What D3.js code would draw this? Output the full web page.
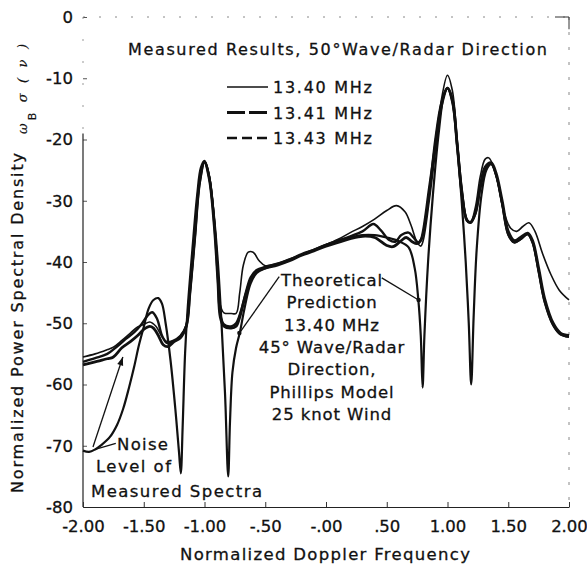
<!DOCTYPE html>
<html>
<head>
<meta charset="utf-8">
<script src="https://cdn.jsdelivr.net/npm/d3@7"></script>
<style>
  body { margin: 0; background: #fff; }
  svg text { font-family: "DejaVu Sans", "Liberation Sans", Arial, sans-serif; fill: #111; stroke: #111; stroke-width: 0.3; }
</style>
</head>
<body>
<div id="chart"></div>
<script>
// axis ticks
const xTicks = [-2, -1.5, -1, -0.5, 0, 0.5, 1, 1.5, 2];
const xTickLabels = ["-2.00", "-1.50", "-1.00", "-.50", "-.00", ".50", "1.00", "1.50", "2.00"];
const yTicks = [0, -10, -20, -30, -40, -50, -60, -70, -80];
const yTickLabels = ["0", "-10", "-20", "-30", "-40", "-50", "-60", "-70", "-80"];

// series: [normalized doppler freq, dB]
const theory = [
  [-2.00,-70.8],[-1.95,-71.0],[-1.90,-70.6],[-1.85,-69.9],[-1.78,-68.6],[-1.72,-66.6],[-1.67,-64.0],
  [-1.62,-60.4],[-1.58,-57.2],[-1.54,-53.6],[-1.50,-50.6],[-1.46,-47.6],[-1.42,-46.2],[-1.38,-45.9],
  [-1.35,-46.8],[-1.32,-50.0],[-1.28,-56.0],[-1.24,-64.0],[-1.21,-71.0],[-1.195,-74.5],[-1.18,-67.0],
  [-1.16,-55.0],[-1.14,-48.0],[-1.10,-38.0],[-1.06,-29.0],[-1.03,-24.6],[-1.00,-23.5],[-0.97,-25.2],
  [-0.93,-31.0],[-0.89,-40.0],[-0.86,-50.0],[-0.83,-62.0],[-0.805,-75.0],[-0.79,-66.0],[-0.77,-58.0],
  [-0.74,-54.0],[-0.71,-51.6],[-0.67,-47.5],[-0.62,-43.5],[-0.57,-41.8],[-0.50,-41.0],[-0.40,-40.4],
  [-0.30,-39.7],[-0.20,-38.8],[-0.10,-38.0],[0.00,-37.2],[0.10,-36.6],[0.20,-36.0],[0.30,-35.6],
  [0.40,-35.6],[0.50,-36.0],[0.60,-36.6],[0.68,-37.6],[0.73,-41.0],[0.76,-46.2],[0.78,-52.0],
  [0.795,-60.5],[0.81,-52.0],[0.84,-40.0],[0.88,-29.0],[0.93,-18.5],[0.97,-12.8],[1.00,-11.6],
  [1.04,-14.0],[1.08,-21.0],[1.12,-31.0],[1.15,-40.0],[1.175,-50.0],[1.195,-60.0],[1.215,-49.0],
  [1.24,-38.0],[1.28,-29.0],[1.32,-25.0],[1.36,-24.0],[1.40,-25.8],[1.45,-30.5],[1.50,-35.5],
  [1.55,-36.8],[1.60,-36.3],[1.66,-35.4],[1.70,-36.8],[1.75,-41.5],[1.80,-46.5],[1.87,-50.3],
  [1.93,-51.8],[2.00,-52.2]
];
const mhz1340 = [
  [-2.00,-55.5],[-1.90,-55.0],[-1.80,-54.3],[-1.75,-53.9],[-1.68,-52.8],[-1.61,-51.6],[-1.55,-50.6],
  [-1.50,-50.2],[-1.45,-49.8],[-1.40,-50.5],[-1.35,-52.2],[-1.31,-53.0],[-1.26,-52.8],[-1.20,-52.0],
  [-1.15,-50.3],[-1.12,-45.0],[-1.08,-36.0],[-1.04,-27.0],[-1.00,-23.5],[-0.96,-26.0],[-0.92,-33.0],
  [-0.89,-42.0],[-0.87,-47.0],[-0.84,-48.3],[-0.78,-48.4],[-0.74,-48.4],[-0.71,-45.0],[-0.68,-40.5],
  [-0.64,-38.4],[-0.60,-38.4],[-0.55,-39.8],[-0.50,-40.6],[-0.40,-40.2],[-0.30,-39.5],[-0.20,-38.8],
  [-0.10,-38.0],[0.00,-37.2],[0.10,-36.3],[0.20,-35.2],[0.30,-34.2],[0.40,-33.0],[0.50,-31.6],
  [0.58,-30.8],[0.65,-31.8],[0.70,-34.0],[0.75,-36.8],[0.78,-37.4],[0.80,-36.5],[0.85,-30.0],
  [0.90,-22.0],[0.95,-13.5],[1.00,-9.5],[1.04,-12.0],[1.08,-20.0],[1.12,-28.0],[1.16,-33.0],
  [1.19,-33.5],[1.23,-31.0],[1.27,-26.0],[1.31,-23.2],[1.34,-23.0],[1.38,-24.5],[1.42,-27.5],
  [1.46,-31.5],[1.52,-34.5],[1.57,-35.0],[1.62,-34.2],[1.67,-33.6],[1.72,-35.0],[1.78,-38.5],
  [1.85,-42.0],[1.92,-44.6],[2.00,-46.2]
];
const mhz1341 = [
  [-2.00,-56.8],[-1.90,-56.3],[-1.80,-55.8],[-1.75,-55.5],[-1.68,-54.0],[-1.61,-53.0],[-1.55,-52.0],
  [-1.50,-51.0],[-1.45,-50.5],[-1.42,-50.8],[-1.38,-52.0],[-1.34,-53.5],[-1.30,-53.8],[-1.25,-53.0],
  [-1.20,-52.4],[-1.15,-50.5],[-1.12,-45.0],[-1.08,-36.0],[-1.04,-27.0],[-1.00,-23.7],[-0.96,-26.5],
  [-0.92,-34.0],[-0.89,-43.0],[-0.87,-49.0],[-0.84,-50.5],[-0.78,-50.8],[-0.74,-50.5],[-0.71,-49.0],
  [-0.67,-46.0],[-0.62,-43.0],[-0.57,-41.5],[-0.50,-41.0],[-0.40,-40.5],[-0.30,-39.8],[-0.20,-38.9],
  [-0.10,-38.2],[0.00,-37.4],[0.10,-36.8],[0.20,-36.2],[0.30,-35.8],[0.40,-36.0],[0.50,-37.3],
  [0.55,-37.5],[0.62,-36.5],[0.66,-36.0],[0.71,-36.7],[0.75,-37.0],[0.78,-36.5],[0.80,-35.0],
  [0.85,-28.0],[0.90,-21.0],[0.95,-14.5],[1.00,-11.6],[1.04,-13.5],[1.08,-21.0],[1.12,-29.0],
  [1.16,-33.2],[1.19,-33.5],[1.23,-32.0],[1.27,-27.5],[1.31,-24.5],[1.36,-23.8],[1.40,-25.5],
  [1.45,-30.0],[1.50,-35.0],[1.55,-36.5],[1.60,-36.0],[1.66,-35.3],[1.70,-36.5],[1.75,-41.0],
  [1.80,-46.0],[1.87,-50.0],[1.93,-51.6],[2.00,-52.0]
];
const mhz1343 = [
  [-2.00,-56.3],[-1.90,-55.7],[-1.80,-55.0],[-1.72,-53.8],[-1.65,-52.6],[-1.58,-51.5],[-1.52,-50.2],
  [-1.47,-48.8],[-1.43,-48.2],[-1.39,-49.3],[-1.35,-52.0],[-1.31,-53.2],[-1.26,-53.0],[-1.20,-52.2],
  [-1.15,-50.4],[-1.12,-45.0],[-1.08,-36.0],[-1.04,-27.0],[-1.00,-23.7],[-0.96,-26.3],[-0.92,-33.5],
  [-0.89,-42.5],[-0.87,-48.5],[-0.84,-50.2],[-0.78,-50.5],[-0.74,-50.0],[-0.70,-48.0],[-0.66,-45.0],
  [-0.62,-42.5],[-0.57,-41.3],[-0.50,-40.8],[-0.40,-40.3],[-0.30,-39.6],[-0.20,-38.7],[-0.10,-38.0],
  [0.00,-37.2],[0.10,-36.5],[0.20,-35.8],[0.30,-35.0],[0.39,-33.8],[0.45,-34.8],[0.52,-36.4],
  [0.57,-36.7],[0.62,-35.6],[0.68,-35.2],[0.72,-36.0],[0.76,-36.8],[0.79,-36.0],[0.82,-33.0],
  [0.86,-27.0],[0.90,-20.0],[0.95,-14.0],[1.00,-11.6],[1.04,-13.5],[1.08,-21.0],[1.12,-29.0],
  [1.16,-33.2],[1.19,-33.6],[1.23,-32.0],[1.27,-28.0],[1.31,-25.0],[1.36,-24.0],[1.40,-25.8],
  [1.45,-30.5],[1.50,-35.5],[1.55,-36.8],[1.60,-36.3],[1.66,-35.5],[1.70,-36.8],[1.75,-41.5],
  [1.80,-46.5],[1.87,-50.3],[1.93,-51.8],[2.00,-52.2]
];

const legendLabels = ["13.40 MHz", "13.41 MHz", "13.43 MHz"];
const theoryNote = ["Theoretical", "Prediction", "13.40 MHz", "45\u00b0 Wave/Radar", "Direction,", "Phillips Model", "25 knot Wind"];
const noiseNote = ["Noise", "Level of", "Measured Spectra"];
// annotation leaders, in data units
const noiseArrow = [[-1.918, -70.2], [-1.672, -55.5]];
const noiseLead = [[-1.73, -69.6], [-1.90, -70.6]];
const theoryLeadLeft = [[-0.385, -42.4], [-0.713, -51.6]];
const theoryLeadRight = [[0.459, -42.6], [0.762, -46.2]];

const width = 587, height = 568;
const margin = {top: 17, right: 18, bottom: 61, left: 83};

const svg = d3.select("#chart").append("svg")
    .attr("width", width)
    .attr("height", height);

const x = d3.scaleLinear().domain([-2, 2]).range([margin.left, width - margin.right]);
const y = d3.scaleLinear().domain([-80, 0]).range([height - margin.bottom, margin.top]);

// faint top / right frame (as in the scan)
svg.append("line")
    .attr("x1", x(-2)).attr("x2", x(2)).attr("y1", y(0)).attr("y2", y(0))
    .style("stroke", "#888").style("stroke-width", 1).style("stroke-dasharray", "2,14");
svg.append("line")
    .attr("x1", x(2)).attr("x2", x(2)).attr("y1", y(0)).attr("y2", y(-80))
    .style("stroke", "#888").style("stroke-width", 1).style("stroke-dasharray", "3,12");
svg.append("path")
    .attr("d", "M" + (x(2) - 14) + "," + y(0) + "H" + x(2) + "V" + y(-2))
    .style("fill", "none").style("stroke", "#333").style("stroke-width", 1);

// left axis
const yAxis = svg.append("g")
    .attr("transform", "translate(" + margin.left + ",0)")
    .call(d3.axisLeft(y).tickValues(yTicks)
        .tickFormat((d, i) => yTickLabels[i])
        .tickSizeInner(-4).tickSizeOuter(0).tickPadding(10));
yAxis.select(".domain").remove();
yAxis.selectAll(".tick line").style("stroke", "#555");
yAxis.selectAll("text").style("font-size", "16.5px");
svg.append("line")
    .attr("x1", x(-2)).attr("x2", x(-2)).attr("y1", y(-19)).attr("y2", y(-80))
    .style("stroke", "#222").style("stroke-width", 1.2);
svg.append("line")
    .attr("x1", x(-2)).attr("x2", x(-2)).attr("y1", y(0)).attr("y2", y(-19))
    .style("stroke", "#999").style("stroke-width", 1).style("stroke-dasharray", "2,20");

// bottom axis
const xAxis = svg.append("g")
    .attr("transform", "translate(0," + (height - margin.bottom) + ")")
    .call(d3.axisBottom(x).tickValues(xTicks)
        .tickFormat((d, i) => xTickLabels[i])
        .tickSizeInner(-5).tickSizeOuter(0).tickPadding(13));
xAxis.select(".domain").style("stroke", "#222").style("stroke-width", 1.2);
xAxis.selectAll(".tick line").style("stroke", "#333");
xAxis.selectAll("text").style("font-size", "16.5px");

// curves
const line = d3.line()
    .x(d => x(d[0]))
    .y(d => y(d[1]))
    .curve(d3.curveCatmullRom.alpha(0.5));

const series = [
  {data: theory, w: 2.2},
  {data: mhz1343, w: 2.4},
  {data: mhz1341, w: 2.8},
  {data: mhz1340, w: 1.6}
];
svg.selectAll(".curve")
    .data(series)
    .enter()
    .append("path")
    .attr("class", "curve")
    .attr("d", d => line(d.data))
    .style("fill", "none")
    .style("stroke", "#111")
    .style("stroke-width", d => d.w)
    .style("stroke-linejoin", "round");

// title
svg.append("text")
    .attr("x", 128).attr("y", 55)
    .attr("textLength", 419).attr("lengthAdjust", "spacing")
    .style("font-size", "16px")
    .text("Measured Results, 50\u00b0Wave/Radar Direction");

// legend
const legendStyles = [
  {w: 1.5, dash: null},
  {w: 3, dash: "18,4"},
  {w: 2.4, dash: "10,5"}
];
const legend = svg.selectAll(".legend")
    .data(legendLabels)
    .enter()
    .append("g")
    .attr("class", "legend")
    .attr("transform", (d, i) => "translate(227," + (87 + i * 25.5) + ")");
legend.append("line")
    .attr("x1", 0).attr("x2", 41).attr("y1", 0).attr("y2", 0)
    .style("stroke", "#111")
    .style("stroke-width", (d, i) => legendStyles[i].w)
    .style("stroke-dasharray", (d, i) => legendStyles[i].dash);
legend.append("text")
    .attr("x", 46).attr("y", 6)
    .attr("textLength", 99).attr("lengthAdjust", "spacing")
    .style("font-size", "16px")
    .text(d => d);

// theoretical note
svg.selectAll(".tnote")
    .data(theoryNote)
    .enter()
    .append("text")
    .attr("class", "tnote")
    .attr("x", 332)
    .attr("y", (d, i) => 286 + i * 22.3)
    .attr("text-anchor", "middle")
    .style("font-size", "16.5px")
    .style("letter-spacing", "0.9px")
    .text(d => d);

// noise note
const noisePos = [{x: 117, y: 450, len: 51}, {x: 96, y: 472, len: 75}, {x: 91, y: 497, len: 171}];
svg.selectAll(".nnote")
    .data(noiseNote)
    .enter()
    .append("text")
    .attr("class", "nnote")
    .attr("x", (d, i) => noisePos[i].x)
    .attr("y", (d, i) => noisePos[i].y)
    .attr("textLength", (d, i) => noisePos[i].len).attr("lengthAdjust", "spacing")
    .style("font-size", "16.5px")
    .text(d => d);

// leaders
function leader(pts, dot, head) {
    svg.append("line")
        .attr("x1", x(pts[0][0])).attr("y1", y(pts[0][1]))
        .attr("x2", x(pts[1][0])).attr("y2", y(pts[1][1]))
        .style("stroke", "#111").style("stroke-width", 1.3);
    if (dot) {
        svg.append("circle")
            .attr("cx", x(pts[1][0])).attr("cy", y(pts[1][1])).attr("r", 2.2)
            .style("fill", "#111");
    }
    if (head) {
        let x1 = x(pts[0][0]), y1 = y(pts[0][1]), x2 = x(pts[1][0]), y2 = y(pts[1][1]);
        let a = Math.atan2(y2 - y1, x2 - x1);
        let l = 9, s = 0.35;
        svg.append("path")
            .attr("d", "M" + x2 + "," + y2 +
                "L" + (x2 - l * Math.cos(a - s)) + "," + (y2 - l * Math.sin(a - s)) +
                "L" + (x2 - l * Math.cos(a + s)) + "," + (y2 - l * Math.sin(a + s)) + "Z")
            .style("fill", "#111");
    }
}
leader(noiseArrow, false, true);
leader(noiseLead, false, false);
leader(theoryLeadLeft, true, false);
leader(theoryLeadRight, true, false);

// axis titles
svg.append("text")
    .attr("transform", "translate(23," + 323 + ") rotate(-90)")
    .attr("text-anchor", "middle")
    .attr("textLength", 340).attr("lengthAdjust", "spacing")
    .style("font-size", "16px")
    .text("Normalized Power Spectral Density");

const sym = svg.append("text")
    .attr("transform", "translate(27,134) rotate(-90)")
    .attr("textLength", 90).attr("lengthAdjust", "spacing")
    .style("font-family", "'DejaVu Serif', 'Liberation Serif', serif")
    .style("font-style", "italic")
    .style("font-size", "13px")
    .style("stroke-width", 0.2);
sym.append("tspan").text("\u03c9");
sym.append("tspan").attr("dy", 9).style("font-size", "11px").style("font-style", "normal")
    .style("font-family", "'DejaVu Sans', Arial, sans-serif").text("B");
sym.append("tspan").attr("dy", -9).text(" \u03c3 ( \u03bd )");

svg.append("text")
    .attr("x", 325).attr("y", 560)
    .attr("text-anchor", "middle")
    .attr("textLength", 290).attr("lengthAdjust", "spacing")
    .style("font-size", "16.5px")
    .text("Normalized Doppler Frequency");
</script>
</body>
</html>
